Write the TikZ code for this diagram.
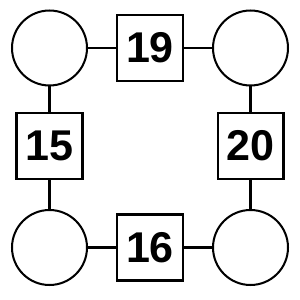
\documentclass[tikz,border=0pt]{standalone}
\usepackage{fontspec}
\setmainfont{Liberation Sans}
\usepackage{tikz}
\usetikzlibrary{positioning}

\begin{document}
\begin{tikzpicture}[x=0.02cm,y=-0.02cm,line width=1.15pt,
 ring/.style={draw,circle,minimum size=1.5cm,inner sep=0pt},
 numbox/.style={draw,minimum size=1.32cm,inner sep=0pt,font=\fontsize{24.5}{26}\selectfont\bfseries}]
\useasboundingbox (0,0) rectangle (300,300);
\node[ring](c1) at (49.5,48){};
\node[ring](c2) at (250.5,48){};
\node[ring](c3) at (49.5,247.5){};
\node[ring](c4) at (250.5,247.5){};
\node[numbox](top) at (150,48){19};
\node[numbox](lft) at (49.5,146){15};
\node[numbox](rgt) at (250.5,146){20};
\node[numbox](bot) at (150,247.5){16};
\draw(c1)--(top) (top)--(c2)
(c1)--(lft) (lft)--(c3)
(c2)--(rgt) (rgt)--(c4)
(c3)--(bot) (bot)--(c4);
\end{tikzpicture}
\end{document}
